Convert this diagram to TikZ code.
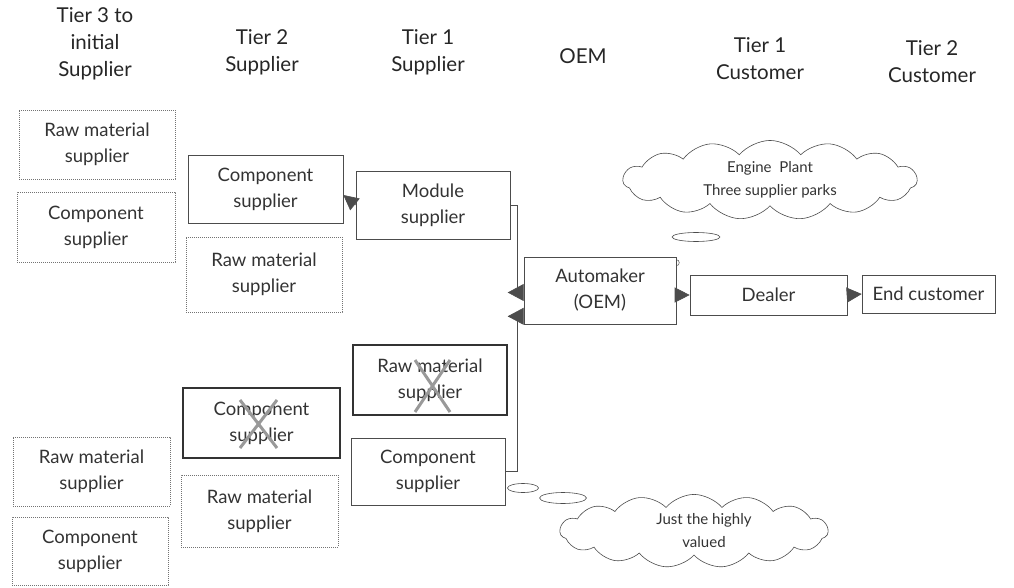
\documentclass[tikz,border=0pt]{standalone}
\usepackage{fontspec}
\setmainfont{Lato}
\usetikzlibrary{shapes.symbols,shapes.geometric,arrows.meta}
\begin{document}
\begin{tikzpicture}[x=1pt,y=-1pt,
  box/.style={draw=black!70, line width=0.6pt, align=center, font=\fontsize{18.5}{26}\selectfont, text=black!80, inner sep=0pt},
  dotbox/.style={box, draw=black!55, dash pattern=on 0.7pt off 1.3pt},
  xbox/.style={box, line width=1.6pt, draw=black!80},
  hdr/.style={align=center, font=\fontsize{20.5}{27}\selectfont, text=black!85},
  conn/.style={draw=black!70, line width=0.6pt},
  arr/.style={conn, -{Triangle[length=15pt,width=15pt]}},
  revarr/.style={conn, -{Triangle[reversed,length=16pt,width=17pt]}},
  xmark/.style={draw=black!40, line width=3pt},
  cloudy/.style={cloud, cloud puffs=15, cloud puff arc=100, cloud ignores aspect, draw=black!70, line width=0.6pt, align=center, font=\fontsize{15}{23}\selectfont, text=black!80},
  bubble/.style={ellipse, draw=black!70, line width=0.6pt, inner sep=0pt}
]
\useasboundingbox (0,0) rectangle (1014,588);

% headers
\node[hdr] (h1) at (95,44) {Tier 3 to\\initial\\Supplier};
\node[hdr] (h2) at (262,52) {Tier 2\\Supplier};
\node[hdr] (h3) at (428,52) {Tier 1\\Supplier};
\node[hdr] (h4) at (583,56) {OEM};
\node[hdr] (h5) at (760,59) {Tier 1\\Customer};
\node[hdr] (h6) at (932,62) {Tier 2\\Customer};

% tier 3
\node[dotbox, minimum width=156, minimum height=69] (t3a) at (97,144.5) {Raw material\\supplier};
\node[dotbox, minimum width=158, minimum height=70] (t3b) at (96,227) {Component\\supplier};
\node[dotbox, minimum width=157, minimum height=69] (t3c) at (91.5,471.5) {Raw material\\supplier};
\node[dotbox, minimum width=156, minimum height=68] (t3d) at (90,551) {Component\\supplier};

% tier 2
\node[box, minimum width=155, minimum height=68] (t2a) at (265.5,189) {Component\\supplier};
\node[dotbox, minimum width=156, minimum height=75] (t2b) at (264,274.5) {Raw material\\supplier};
\node[xbox, minimum width=157, minimum height=70] (t2c) at (261.5,423) {Component\\supplier};
\node[dotbox, minimum width=157, minimum height=72] (t2d) at (259.5,511) {Raw material\\supplier};

% tier 1
\node[box, minimum width=154, minimum height=68] (t1a) at (433,205) {Module\\supplier};
\node[xbox, minimum width=154, minimum height=70] (t1b) at (430,380) {Raw material\\supplier};
\node[box, minimum width=154, minimum height=67] (t1c) at (428,471.5) {Component\\supplier};

% OEM and customers
\node[box, minimum width=152, minimum height=67] (oem) at (600,290.5) {Automaker\\(OEM)};
\node[box, minimum width=157, minimum height=40] (dealer) at (768.5,295) {Dealer};
\node[box, minimum width=133, minimum height=38] (endc) at (928.5,294) {End customer};

% crosses
\draw[xmark] (240,400) -- (277,448) (277,400) -- (240,448);
\draw[xmark] (415,360) -- (450,412) (450,360) -- (415,412);

% connectors
\draw[arr] (t1a.west) -- ([yshift=-6pt]t2a.east);
\draw[revarr] (t1a.east) -- ++(7,0) |- ([yshift=-2pt]oem.west);
\draw[revarr] (t1c.east) -- ++(12,0) |- ([yshift=8pt]oem.south west);
\draw[arr] (oem.east |- dealer.west) -- (dealer.west);
\draw[arr] (dealer.east) -- (endc.west);
\draw[conn, line width=0.5pt] ([yshift=-3pt]oem.north east) arc[start angle=90, end angle=-90, radius=3pt];

% thought bubbles
\node[cloudy, minimum width=294, minimum height=70] (cl1) at (770,180) {Engine\ \ Plant\\Three supplier parks};
\node[bubble, minimum width=48, minimum height=9] (e1) at (696,237) {};
\node[bubble, minimum width=31, minimum height=9] (e2) at (523,488) {};
\node[bubble, minimum width=47, minimum height=11] (e3) at (563,498) {};
\node[cloudy, minimum width=268, minimum height=68] (cl2) at (694,531) {\hspace*{20pt}Just the highly\\\hspace*{20pt}valued};
\end{tikzpicture}
\end{document}
